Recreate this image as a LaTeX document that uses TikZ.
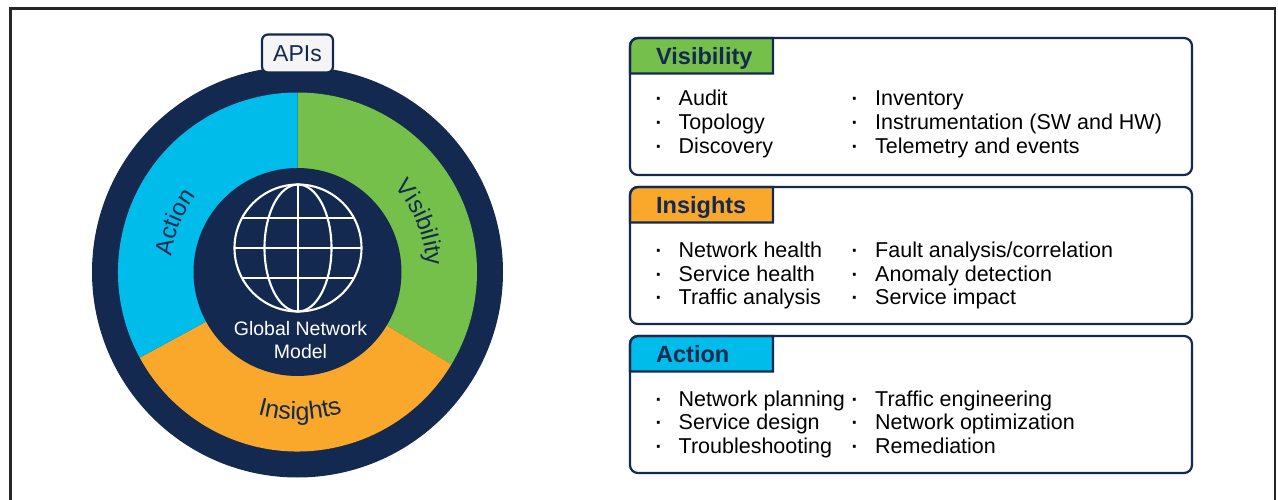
\documentclass[tikz,border=0pt]{standalone}
\usepackage{fontspec}
\setmainfont{Liberation Sans}
\usetikzlibrary{decorations.text}

\definecolor{navy}{HTML}{13294F}
\definecolor{visGreen}{HTML}{75BF4B}
\definecolor{insOrange}{HTML}{FAA82B}
\definecolor{actBlue}{HTML}{00BCEB}

\tikzset{
	itemtext/.style={anchor=base west, inner sep=0pt, font=\fontsize{21.5}{24}\selectfont, text=black},
	itemdot/.style={anchor=base, inner sep=0pt, font=\fontsize{20}{24}\selectfont\bfseries, text=black},
	cardbox/.style={draw=navy, line width=2.2pt, rounded corners=8pt, anchor=north west, outer sep=0pt, minimum width=562pt, minimum height=137pt, inner sep=0pt},
	cardtitle/.style={anchor=base west, inner sep=0pt, font=\fontsize{23.5}{26}\selectfont\bfseries, text=navy}
}

\begin{document}
\begin{tikzpicture}[x=1pt, y=1pt]
	\useasboundingbox (0,-500) rectangle (1278,0);
	% Outer frame, open at the bottom
	\draw[black!85, line width=2.6pt] (10.5,-500) -- (10.5,-8.5) -- (1275,-8.5) -- (1275,-500);

	% The ring and its three sectors
	\begin{scope}[shift={(297.5,-272)}]
		\fill[navy] (0,0) circle (205.5);
		\fill[visGreen] (0,0) -- (90:179.5) arc[start angle=90, end angle=-31, radius=179.5] -- cycle;
		\fill[insOrange] (0,0) -- (-31:179.5) arc[start angle=-31, end angle=-151.5, radius=179.5] -- cycle;
		\fill[actBlue] (0,0) -- (-151.5:179.5) arc[start angle=-151.5, end angle=-270, radius=179.5] -- cycle;
		\fill[navy] (0,0) circle (104);

		% Labels follow the ring
		\path[decorate, decoration={text along path, text align=center, text={|\fontsize{24}{26}\selectfont\color{navy}|Action}}]
			(178:127) arc[start angle=178, end angle=138, radius=127];
		\path[decorate, decoration={text along path, text align=center, text={|\fontsize{24}{26}\selectfont\color{navy}|Visibility}}]
			(50:129) arc[start angle=50, end angle=-6, radius=129];
		\path[decorate, decoration={text along path, text align=center, text={|\fontsize{25}{26}\selectfont\color{navy}|Insights}}]
			(-124:148) arc[start angle=-124, end angle=-54, radius=148];
	\end{scope}

	% The globe
	\begin{scope}[shift={(298,-248)}, white, line width=2.1pt]
		\coordinate (globe) at (0,0);
		\draw (globe) circle (63.5);
		\draw (globe) ellipse (33.5 and 63.5);
		\draw (0,-63.5) -- (0,63.5);
		\draw (-63.5,0) -- (63.5,0);
		\draw (-56,30) -- (56,30);
		\draw (-56,-30) -- (56,-30);
	\end{scope}
	\node[text=white, align=center, inner sep=0pt, font=\fontsize{19.5}{23}\selectfont] (hubLabel) at (300.5,-340) {Global Network\\Model};

	% The APIs tab on top of the ring
	\node[draw=navy, fill=black!4, line width=2.2pt, rounded corners=6pt, minimum width=71pt, minimum height=38pt, inner sep=0pt, text=navy, font=\fontsize{23}{26}\selectfont] (apis) at (297.5,-53.5) {APIs};

	% Cards on the right: title fill first, then the outline over it
	\foreach \cardName/\cardTop/\cardColor/\cardTitle in {vis/38/visGreen/Visibility, ins/187/insOrange/Insights, act/336/actBlue/Action} {
		\draw[fill=\cardColor, draw=navy, line width=2.2pt] (630,-\cardTop-35.5) [rounded corners=8pt] -- (630,-\cardTop) [sharp corners] -- (773,-\cardTop) -- (773,-\cardTop-35.5) -- cycle;
		\node[cardbox] (\cardName Card) at (630,-\cardTop) {};
		\pgfmathsetmacro{\titleBase}{\cardTop+26.5}
		\node[cardtitle] (\cardName Title) at (656,-\titleBase) {\cardTitle};
	}

	% Left column of items
	\foreach \itemBase/\itemText in {105.5/Audit, 129.5/Topology, 153.5/Discovery, 257/{Network health}, 281/{Service health}, 304/{Traffic analysis}, 406/{Network planning}, 429.5/{Service design}, 453/Troubleshooting} {
		\node[itemdot] (leftDot\itemBase) at (659,-\itemBase) {·};
		\node[itemtext] (leftItem\itemBase) at (678.5,-\itemBase) {\itemText};
	}

	% Right column of items
	\foreach \itemBase/\itemText in {106/Inventory, 129.5/{Instrumentation (SW and HW)}, 153.5/{Telemetry and events}, 257/{Fault analysis/correlation}, 281/{Anomaly detection}, 304/{Service impact}, 406/{Traffic engineering}, 429.5/{Network optimization}, 453/Remediation} {
		\node[itemdot] (rightDot\itemBase) at (855,-\itemBase) {·};
		\node[itemtext] (rightItem\itemBase) at (875,-\itemBase) {\itemText};
	}
\end{tikzpicture}
\end{document}
